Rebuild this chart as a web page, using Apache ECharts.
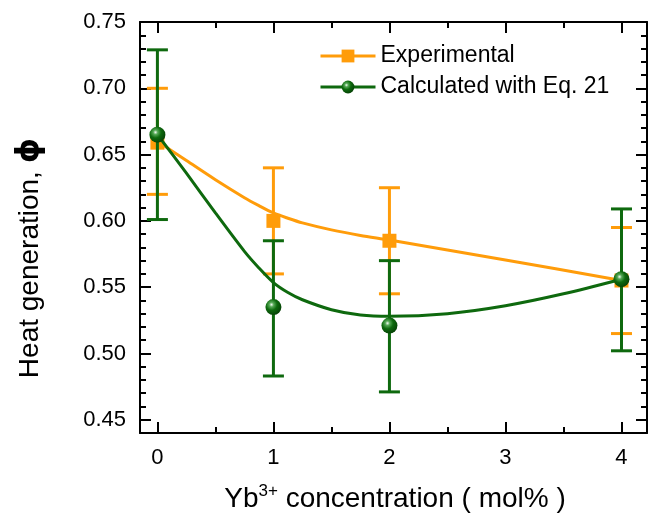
<!DOCTYPE html>
<html><head><meta charset="utf-8">
<script src="https://cdn.jsdelivr.net/npm/echarts@6/dist/echarts.min.js"></script>
<style>html,body{margin:0;padding:0;background:#fff}#c{width:654px;height:519px}</style>
</head><body><div id="c"></div>
<script>
// ---- data ----
const concentration = [0, 1, 2, 4];
const expValue = [0.659, 0.600, 0.585, 0.555];
const expLow   = [0.620, 0.560, 0.545, 0.515];
const expHigh  = [0.700, 0.640, 0.625, 0.595];
const calcValue = [0.665, 0.535, 0.521, 0.556];
const calcLow   = [0.601, 0.483, 0.471, 0.502];
const calcHigh  = [0.729, 0.585, 0.570, 0.609];
// fitted curves
const expCurveX  = [0, 0.25, 0.5, 0.75, 0.875, 1, 1.125, 1.25, 1.5, 1.75, 2, 3, 4];
const expCurveY  = [0.660, 0.6455, 0.631, 0.6175, 0.6115, 0.6060, 0.6020, 0.5985, 0.5932, 0.5890, 0.5855, 0.5705, 0.555];
const calcCurveX = [0, 0.25, 0.5, 0.75, 0.875, 1, 1.125, 1.25, 1.5, 1.75, 2, 2.5, 3, 3.5, 4];
const calcCurveY = [0.665, 0.636, 0.606, 0.577, 0.5645, 0.5535, 0.5460, 0.5405, 0.5330, 0.5290, 0.5280, 0.5300, 0.5360, 0.5450, 0.5560];
const legendNames = ['Experimental', 'Calculated with Eq. 21'];

const ORANGE = '#ff9c0a';
const GREEN = '#0e690e';
const FONT = 'Liberation Sans, Arial, sans-serif';

const zip = (a, b) => a.map((v, i) => [v, b[i]]);
const zip3 = (a, b, c) => a.map((v, i) => [v, b[i], c[i]]);

function errRender(color, cap) {
  return function (params, api) {
    const x = api.value(0), lo = api.value(1), hi = api.value(2);
    const p1 = api.coord([x, hi]), p2 = api.coord([x, lo]);
    const style = { stroke: color, lineWidth: 3, fill: null };
    return { type: 'group', children: [
      { type: 'line', shape: { x1: p1[0], y1: p1[1], x2: p2[0], y2: p2[1] }, style },
      { type: 'line', shape: { x1: p1[0] - cap, y1: p1[1], x2: p1[0] + cap, y2: p1[1] }, style },
      { type: 'line', shape: { x1: p2[0] - cap, y1: p2[1], x2: p2[0] + cap, y2: p2[1] }, style }
    ]};
  };
}

const sphere = { type: 'radial', x: 0.38, y: 0.35, r: 0.7, colorStops: [
  { offset: 0, color: '#f4fcf4' }, { offset: 0.2, color: '#55a855' },
  { offset: 0.5, color: '#0e6a0e' }, { offset: 1, color: '#053f05' } ] };

function xAx(pos, show) {
  return { type: 'value', position: pos, min: -0.15, max: 4.22,
    axisLine: { show: true, onZero: false, lineStyle: { color: '#000', width: 2 } },
    axisTick: { show: true, inside: true, length: 11, lineStyle: { color: '#000', width: 2 } },
    minorTick: { show: true, splitNumber: 2, length: 6, lineStyle: { color: '#000', width: 2 } },
    splitLine: { show: false }, minorSplitLine: { show: false },
    axisLabel: { show: show, color: '#000', fontSize: 22, fontFamily: FONT, margin: 14 } };
}
function yAx(pos, show) {
  return { type: 'value', position: pos, min: 0.44, max: 0.75,
    axisLine: { show: true, onZero: false, lineStyle: { color: '#000', width: 2 } },
    axisTick: { show: true, inside: true, length: 11, lineStyle: { color: '#000', width: 2 } },
    minorTick: { show: true, splitNumber: 5, length: 6, lineStyle: { color: '#000', width: 2 } },
    splitLine: { show: false }, minorSplitLine: { show: false },
    axisLabel: { show: show, color: '#000', fontSize: 22, fontFamily: FONT, margin: 14,
      formatter: v => v.toFixed(2) } };
}

const chart = echarts.init(document.getElementById('c'), null, { renderer: 'canvas' });
chart.setOption({
  animation: false,
  backgroundColor: '#fff',
  grid: { left: 140, top: 22, right: 7, bottom: 86 },
  xAxis: [xAx('bottom', true), xAx('top', false)],
  yAxis: [yAx('left', true), yAx('right', false)],
  legend: {
    left: 314, top: 39, orient: 'vertical', itemWidth: 55, itemHeight: 16, itemGap: 7,
    textStyle: { fontSize: 23, color: '#000', fontFamily: FONT, lineHeight: 24 },
    data: [
      { name: legendNames[0], lineStyle: { opacity: 1, width: 3, color: ORANGE } },
      { name: legendNames[1], lineStyle: { opacity: 1, width: 3, color: GREEN } }
    ]
  },
  graphic: [
    { type: 'text', x: 30, y: 258, rotation: Math.PI / 2,
      style: { text: '{a|Heat generation, }{b|ϕ}', align: 'center', verticalAlign: 'middle',
        rich: { a: { fontSize: 28, fontFamily: FONT, fill: '#000' },
                b: { fontSize: 32, fontFamily: 'DejaVu Sans', fontWeight: 'bold', fill: '#000' } } } },
    { type: 'text', x: 395, y: 499,
      style: { text: '{a|Yb}{s|3+}{a| concentration ( mol% )}', align: 'center', verticalAlign: 'middle',
        rich: { a: { fontSize: 28, fontFamily: FONT, fill: '#000', lineHeight: 32 },
                s: { fontSize: 17, fontFamily: FONT, fill: '#000', verticalAlign: 'top', lineHeight: 32 } } } }
  ],
  series: [
    { type: 'custom', name: 'expErr', renderItem: errRender(ORANGE, 10.5), data: zip3(concentration, expLow, expHigh), z: 2 },
    { type: 'line', name: 'expCurve', data: zip(expCurveX, expCurveY), smooth: 0.3, symbol: 'none',
      lineStyle: { color: ORANGE, width: 3 }, z: 3 },
    { type: 'line', name: legendNames[0], data: zip(concentration, expValue), symbol: 'rect', symbolSize: 14,
      itemStyle: { color: ORANGE }, lineStyle: { opacity: 0, color: ORANGE, width: 3 }, z: 4 },
    { type: 'custom', name: 'calcErr', renderItem: errRender(GREEN, 10.5), data: zip3(concentration, calcLow, calcHigh), z: 5 },
    { type: 'line', name: 'calcCurve', data: zip(calcCurveX, calcCurveY), smooth: 0.3, symbol: 'none',
      lineStyle: { color: GREEN, width: 3 }, z: 6 },
    { type: 'line', name: legendNames[1], data: zip(concentration, calcValue), symbol: 'circle', symbolSize: 16,
      itemStyle: { color: sphere }, lineStyle: { opacity: 0, color: GREEN, width: 3 }, z: 7 }
  ]
});
</script></body></html>
